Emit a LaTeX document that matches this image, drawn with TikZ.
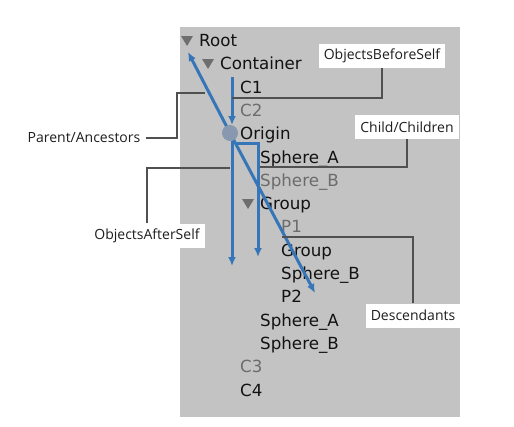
\documentclass[tikz,border=0pt]{standalone}
\usepackage{fontspec}
\newfontfamily\treefont{DejaVu Sans}
\newfontfamily\labelfont{Open Sans}
\usetikzlibrary{arrows.meta}
\definecolor{panel}{HTML}{C3C3C3}
\definecolor{bluearrow}{HTML}{3676B8}
\definecolor{connector}{HTML}{505050}
\definecolor{treetext}{HTML}{121212}
\definecolor{labeltext}{HTML}{1E1E1E}
\definecolor{dimtext}{HTML}{6C6C6C}
\definecolor{tri}{HTML}{6E6E6E}
\definecolor{dotfill}{HTML}{8898AE}
\tikzset{
  item/.style={anchor=base west, inner sep=0pt, font=\treefont\fontsize{16.7}{17}\selectfont, text=treetext},
  dimitem/.style={item, text=dimtext},
  lbl/.style={fill=white, inner xsep=5pt, inner ysep=0pt, minimum height=24pt, font=\labelfont\fontsize{14}{16}\selectfont, text=labeltext},
  conn/.style={draw=connector, line width=2pt},
  barrow/.style={draw=bluearrow, line width=3pt, -{Latex[length=9pt,width=8pt]}},
  tristyle/.style={fill=tri, draw=none}
}
\begin{document}
\begin{tikzpicture}[x=1pt,y=-1pt]
\useasboundingbox (0,0) rectangle (514,426);
\fill[panel] (180,27) rectangle (460,417);
% triangles
\fill[tristyle] (181,36) -- (193,36) -- (187,46) -- cycle;
\fill[tristyle] (202,59) -- (214,59) -- (208,69) -- cycle;
\fill[tristyle] (242,199) -- (254,199) -- (248,209) -- cycle;
% tree items
\node[item] (root) at (199,46.5) {Root};
\node[item] (container) at (220,69.8) {Container};
\node[item] (c1) at (240,93.1) {C1};
\node[dimitem] (c2) at (240,116.4) {C2};
\node[item] (origin) at (240,139.7) {Origin};
\node[item] (sphA) at (260,163) {Sphere\_A};
\node[dimitem] (sphB) at (260,186.3) {Sphere\_B};
\node[item] (group) at (260,209.6) {Group};
\node[dimitem] (p1) at (281,232.9) {P1};
\node[item] (group2) at (281,256.2) {Group};
\node[item] (sphB2) at (281,279.5) {Sphere\_B};
\node[item] (p2) at (281,302.8) {P2};
\node[item] (sphA3) at (260,326.1) {Sphere\_A};
\node[item] (sphB3) at (260,349.4) {Sphere\_B};
\node[dimitem] (c3) at (240,372.7) {C3};
\node[item] (c4) at (240,396) {C4};
% blue arrows
\coordinate (dotc) at (230,133);
\coordinate (c1top) at (232,77);
\coordinate (dotTop) at (232,125);
\coordinate (rootTip) at (188,52);
\coordinate (descTip) at (315,293);
\coordinate (afterStart) at (232,141);
\coordinate (afterTip) at (232,266);
\coordinate (childStart) at (237,143);
\coordinate (childTip) at (258,257);
\draw[barrow] (c1top) -- (dotTop);
\draw[barrow] (dotc) -- (rootTip);
\draw[barrow] (dotc) -- (descTip);
\draw[barrow] (afterStart) -- (afterTip);
\draw[barrow] (childStart) -| (childTip);
% origin dot (on top of the arrows)
\node[circle, fill=dotfill, minimum size=16pt, inner sep=0pt] (dot) at (dotc) {};
% labels
\node[lbl] (lbBefore) at (382,56) {ObjectsBeforeSelf};
\node[lbl] (lbParent) at (84,138) {Parent/Ancestors};
\node[lbl] (lbChild) at (407,127) {Child/Children};
\node[lbl] (lbAfter) at (147,235.5) {ObjectsAfterSelf};
\node[lbl] (lbDesc) at (413,315.5) {Descendants};
% connectors
\coordinate (beforeEnd) at (232,98);
\coordinate (parentBend) at (177,138);
\coordinate (parentEnd) at (205,93);
\coordinate (childEnd) at (260,167);
\coordinate (afterEnd) at (230,168);
\coordinate (descEnd) at (282,237);
\draw[conn] (lbBefore.south) |- (beforeEnd);
\draw[conn] (lbParent.east) -- (parentBend) |- (parentEnd);
\draw[conn] (lbChild.south) |- (childEnd);
\draw[conn] (lbAfter.north) |- (afterEnd);
\draw[conn] (lbDesc.north) |- (descEnd);
\end{tikzpicture}
\end{document}
